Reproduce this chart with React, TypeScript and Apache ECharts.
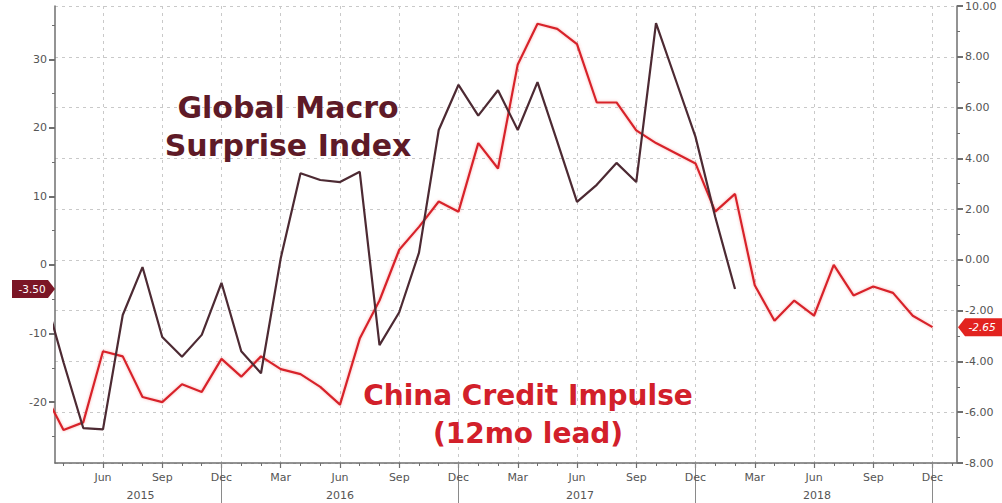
import React, { useEffect, useRef } from "react";
import * as echarts from "echarts";

// Month index: 0 = Jan 2015. Series are monthly from Mar 2015 (index 2).
const FIRST_MONTH = 2;
const MONTH_NAMES = ["Jan", "Feb", "Mar", "Apr", "May", "Jun", "Jul", "Aug", "Sep", "Oct", "Nov", "Dec"];

// Global Macro Surprise Index (left axis), Mar 2015 .. Feb 2018
const surpriseValues = [
  -4.0, -14.2, -23.8, -24.0, -7.3, -0.3, -10.5, -13.4, -10.2, -2.6,
  -12.6, -15.8, 1.0, 13.4, 12.4, 12.1, 13.6, -11.7, -6.9, 1.8, 19.7, 26.3,
  21.8, 25.5, 19.7, 26.7, 18.0, 9.2, 11.7, 14.9, 12.1, 35.3, 27.0, 18.7,
  7.0, -3.5,
];

// China Credit Impulse, 12mo lead (right axis), Mar 2015 .. Dec 2018
const creditValues = [
  -5.2, -6.7, -6.4, -3.6, -3.8, -5.4, -5.6, -4.9, -5.2, -3.9,
  -4.6, -3.8, -4.3, -4.5, -5.0, -5.7, -3.1, -1.6, 0.4, 1.3, 2.3, 1.9,
  4.6, 3.6, 7.7, 9.3, 9.1, 8.5, 6.2, 6.2, 5.1, 4.6, 4.2, 3.8,
  1.9, 2.6, -1.0, -2.4, -1.6, -2.2, -0.2, -1.4, -1.05, -1.3, -2.2, -2.65,
];

// Axis ticks
const xQuarterTicks = [5, 8, 11, 14, 17, 20, 23, 26, 29, 32, 35, 38, 41, 44, 47];
const xMonthTicks = Array.from({ length: 46 }, (_, i) => i + 3);
const yearSeparators = [11, 23, 35, 47];
const yearLabelPos = [6.9, 17, 29.15, 41.15];
const yearLabels = ["2015", "2016", "2017", "2018"];
const leftTicks = [-20, -10, 0, 10, 20, 30];
const leftMinorTicks = [-25, -15, -5, 5, 15, 25, 35];
const rightMinorTicks = [-7, -5, -3, -1, 1, 3, 5, 7, 9];

const X_MIN = 2.57;
const X_MAX = 48.24;
const L_MIN = -28.9;
const L_MAX = 37.8;
const R_MIN = -8;
const R_MAX = 10;

const DARK = "#4d2a33";
const RED = "#d8232a";
const AXIS = "#6f6f6f";
const LABEL = "#555";
const FONT = "DejaVu Sans";

export default function App() {
  const ref = useRef<HTMLDivElement>(null);

  useEffect(() => {
    if (!ref.current) return;
    const chart = echarts.init(ref.current, null, { renderer: "svg" });

    const surpriseData = surpriseValues.map((v, i) => [FIRST_MONTH + i, v]);
    const creditData = creditValues.map((v, i) => [FIRST_MONTH + i, v]);

    const hiddenLine = { show: false, onZero: false };
    const baseX = { type: "value", min: X_MIN, max: X_MAX, position: "bottom" };

    chart.setOption({
      animation: false,
      backgroundColor: "#fff",
      grid: { left: 55, right: 45, top: 6, bottom: 40, containLabel: false },
      xAxis: [
        {
          ...baseX,
          axisLine: { show: true, onZero: false, lineStyle: { color: AXIS, width: 1.5 } },
          axisTick: { show: true, customValues: xQuarterTicks, length: 5, lineStyle: { color: AXIS, width: 1.2 } },
          axisLabel: {
            show: true,
            customValues: xQuarterTicks,
            formatter: (v: number) => MONTH_NAMES[((Math.round(v) % 12) + 12) % 12],
            margin: 9,
            color: LABEL,
            fontSize: 11,
            fontFamily: FONT,
          },
          splitLine: {
            show: true,
            customValues: xQuarterTicks,
            lineStyle: { color: "#c9c9c9", type: [3, 4], width: 1 },
          },
        },
        {
          ...baseX,
          axisLine: hiddenLine,
          axisTick: { show: true, customValues: xMonthTicks, length: 3, lineStyle: { color: AXIS } },
          axisLabel: { show: false },
          splitLine: { show: false },
        },
        {
          ...baseX,
          axisLine: hiddenLine,
          axisTick: { show: true, customValues: yearSeparators, length: 40, lineStyle: { color: "#8a8a8a" } },
          axisLabel: { show: false },
          splitLine: { show: false },
        },
        {
          ...baseX,
          axisLine: hiddenLine,
          axisTick: { show: false },
          axisLabel: {
            show: true,
            customValues: yearLabelPos,
            formatter: (v: number) => yearLabels[yearLabelPos.indexOf(v)] ?? "",
            margin: 27,
            color: LABEL,
            fontSize: 11,
            fontFamily: FONT,
          },
          splitLine: { show: false },
        },
      ],
      yAxis: [
        {
          type: "value",
          min: L_MIN,
          max: L_MAX,
          position: "left",
          axisLine: { show: true, onZero: false, lineStyle: { color: AXIS, width: 1.5 } },
          axisTick: { show: true, customValues: leftTicks, length: 6, lineStyle: { color: AXIS, width: 2 } },
          axisLabel: { show: true, customValues: leftTicks, margin: 8, color: LABEL, fontSize: 11, fontFamily: FONT },
          splitLine: { show: false },
        },
        {
          type: "value",
          min: R_MIN,
          max: R_MAX,
          interval: 2,
          position: "right",
          axisLine: { show: true, onZero: false, lineStyle: { color: AXIS, width: 1.5 } },
          axisTick: { show: true, length: 6, lineStyle: { color: AXIS, width: 2 } },
          axisLabel: {
            show: true,
            margin: 8,
            color: LABEL,
            fontSize: 11,
            fontFamily: FONT,
            formatter: (v: number) => v.toFixed(2),
          },
          splitLine: { show: true, lineStyle: { color: "#c9c9c9", type: [3, 4], width: 1 } },
        },
        {
          type: "value",
          min: L_MIN,
          max: L_MAX,
          position: "left",
          axisLine: hiddenLine,
          axisTick: { show: true, customValues: leftMinorTicks, length: 3, lineStyle: { color: AXIS } },
          axisLabel: { show: false },
          splitLine: { show: false },
        },
        {
          type: "value",
          min: R_MIN,
          max: R_MAX,
          position: "right",
          axisLine: hiddenLine,
          axisTick: { show: true, customValues: rightMinorTicks, length: 3, lineStyle: { color: AXIS } },
          axisLabel: { show: false },
          splitLine: { show: false },
        },
      ],
      series: [
        {
          name: "China Credit Impulse (12mo lead)",
          type: "line",
          xAxisIndex: 0,
          yAxisIndex: 1,
          data: creditData,
          symbol: "none",
          clip: true,
          lineStyle: { color: RED, width: 2.2, shadowColor: "rgba(240,90,90,0.45)", shadowBlur: 3 },
          z: 3,
        },
        {
          name: "Global Macro Surprise Index",
          type: "line",
          xAxisIndex: 0,
          yAxisIndex: 0,
          data: surpriseData,
          symbol: "none",
          clip: true,
          lineStyle: { color: DARK, width: 2.2 },
          z: 4,
        },
      ],
    });

    const lastSurprise = surpriseValues[surpriseValues.length - 1];
    const lastCredit = creditValues[creditValues.length - 1];
    const yL = chart.convertToPixel({ yAxisIndex: 0 }, lastSurprise) as number;
    const yR = chart.convertToPixel({ yAxisIndex: 1 }, lastCredit) as number;

    chart.setOption({
      graphic: [
        {
          type: "text",
          x: 288,
          y: 126,
          z: 10,
          style: {
            text: "Global Macro\nSurprise Index",
            fill: "#5e1a27",
            font: `bold 30px "${FONT}"`,
            lineHeight: 38,
            align: "center",
            verticalAlign: "middle",
          },
        },
        {
          type: "text",
          x: 528,
          y: 414,
          z: 10,
          style: {
            text: "China Credit Impulse\n(12mo lead)",
            fill: "#d2202a",
            font: `bold 28px "${FONT}"`,
            lineHeight: 38,
            align: "center",
            verticalAlign: "middle",
          },
        },
        {
          type: "polygon",
          z: 20,
          shape: {
            points: [
              [12, yL - 9],
              [48, yL - 9],
              [55, yL],
              [48, yL + 9],
              [12, yL + 9],
            ],
          },
          style: { fill: "#7b1626" },
        },
        {
          type: "text",
          x: 32,
          y: yL,
          z: 21,
          style: {
            text: lastSurprise.toFixed(2),
            fill: "#fff",
            font: `10.5px "${FONT}"`,
            align: "center",
            verticalAlign: "middle",
          },
        },
        {
          type: "polygon",
          z: 20,
          shape: {
            points: [
              [958, yR],
              [965, yR - 9],
              [1002, yR - 9],
              [1002, yR + 9],
              [965, yR + 9],
            ],
          },
          style: { fill: "#e2231f" },
        },
        {
          type: "text",
          x: 982,
          y: yR,
          z: 21,
          style: {
            text: lastCredit.toFixed(2),
            fill: "#fff",
            font: `italic 10.5px "${FONT}"`,
            align: "center",
            verticalAlign: "middle",
          },
        },
      ],
    });

    return () => chart.dispose();
  }, []);

  return (
    <div
      ref={ref}
      style={{ position: "absolute", left: 0, top: 0, width: 1002, height: 503, background: "#fff" }}
    />
  );
}
